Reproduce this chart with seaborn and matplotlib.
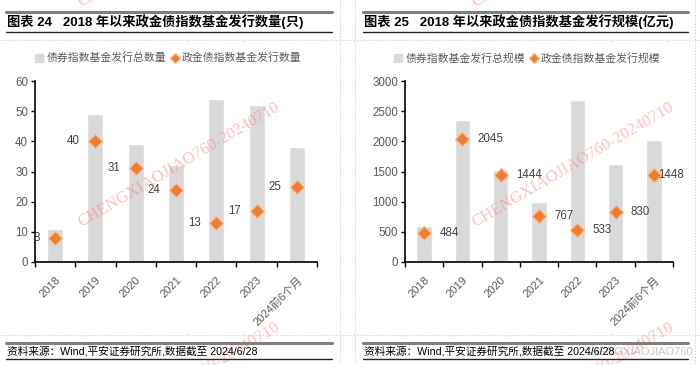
import matplotlib
matplotlib.use("Agg")
import matplotlib.pyplot as plt
import seaborn as sns
import numpy as np
from matplotlib.lines import Line2D

# 数据
years = ["2018", "2019", "2020", "2021", "2022", "2023", "2024前6个月"]
total_count = [11, 49, 39, 32, 54, 52, 38]
pfb_count = [8, 40, 31, 24, 13, 17, 25]
total_scale = [600, 2355, 1528, 993, 2686, 1622, 2024]
pfb_scale = [484, 2045, 1444, 767, 533, 830, 1448]

titles = ["图表 24   2018 年以来政金债指数基金发行数量(只)",
          "图表 25   2018 年以来政金债指数基金发行规模(亿元)"]
legend_labels = [["债券指数基金发行总数量", "政金债指数基金发行数量"],
                 ["债券指数基金发行总规模", "政金债指数基金发行规模"]]
source_text = "资料来源：Wind,平安证券研究所,数据截至 2024/6/28"
watermark = "CHENGXIAOJIAO760-20240710"

sns.set_theme(style="white")
plt.rcParams['font.family'] = ['Liberation Sans', 'Noto Sans CJK SC', 'DejaVu Sans']
plt.rcParams['axes.unicode_minus'] = False

BAR = "#D9D9D9"
ORANGE = "#ED7D31"
GREY_TXT = "#595959"

W, H = 700, 365
fig = plt.figure(figsize=(7, 3.65), dpi=100)


def fx(px):
    return px / W


def fy(py):
    return 1 - py / H


def hline(x0, x1, y, color, lw, ls="-"):
    fig.add_artist(Line2D([fx(x0), fx(x1)], [fy(y), fy(y)], color=color, lw=lw, ls=ls))


def vline(x, y0, y1, color, lw, ls="-"):
    fig.add_artist(Line2D([fx(x), fx(x)], [fy(y0), fy(y1)], color=color, lw=lw, ls=ls))


def draw_panel(ax, totals, subset, ymax, ystep, dx_list, ha):
    pos = np.arange(len(years))
    sns.barplot(x=pos, y=totals, color=BAR, width=0.4, saturation=1, ax=ax, zorder=1)
    sns.scatterplot(x=pos, y=subset, marker="D", s=50, color=ORANGE,
                    edgecolor="#F8B98A", linewidth=0.9, ax=ax, zorder=3)
    for x, v, dx in zip(pos, subset, dx_list):
        t = ax.annotate(str(v), (x, v), xytext=(dx, 0), textcoords="offset points",
                        ha=ha, va="center", fontsize=8.3, color="#404040")
        t.set_clip_on(True)
    ax.set_xlim(-0.5, len(years) - 0.5)
    ax.set_ylim(0, ymax)
    ax.set_yticks(np.arange(0, ymax + 1, ystep))
    ax.set_xticks(pos)
    ax.set_xticklabels(years, rotation=45, ha="right", rotation_mode="anchor")
    ax.set_xticks(np.arange(-0.5, len(years), 1), minor=True)
    ax.tick_params(axis="x", which="major", length=0, pad=9, labelsize=8, labelcolor=GREY_TXT)
    ax.tick_params(axis="x", which="minor", length=3.5, width=1, color="black", direction="out", bottom=True)
    ax.tick_params(axis="y", length=3, width=1, color="black", direction="out", left=True,
                   labelsize=8.3, labelcolor=GREY_TXT, pad=2)
    for side in ["top", "right"]:
        ax.spines[side].set_visible(False)
    for side in ["left", "bottom"]:
        ax.spines[side].set_color("black")
        ax.spines[side].set_linewidth(1.2)
    ax.set_xlabel("")
    ax.set_ylabel("")
    ax.grid(False)


ax1 = fig.add_axes([fx(35), fy(262), fx(317 - 35), (262 - 81) / H])
ax2 = fig.add_axes([fx(405), fy(262), fx(673 - 405), (262 - 81) / H])

draw_panel(ax1, total_count, pfb_count, 60, 10, [-11] * 7, "right")
draw_panel(ax2, total_scale, pfb_scale, 3000, 500, [11] * 6 + [3], "left")

# 水印（平铺）
fig.text(fx(693), fy(352), "CHENGXIAOJIAO760", fontsize=8, color="#C8C8C8",
         ha="right", va="center", zorder=0)
for cx in [179, 573]:
    for cy in [-55, 165, 385]:
        fig.text(fx(cx), fy(cy), watermark, fontsize=12, color="#FF7F7F", alpha=0.5,
                 rotation=30.5, ha="center", va="center", family="Liberation Serif",
                 zorder=0)

# 标题、来源
for x0, x1, title in [(6, 332, titles[0]), (363, 688, titles[1])]:
    hline(x0, x1, 12, "#7F7F7F", 2.2)
    fig.text(fx(x0 + 1), fy(22), title, fontsize=9.5, fontweight="bold",
             color="black", va="center", ha="left")
    hline(x0, x1, 31.5, "#262626", 1.0)
    hline(x0, x1, 343, "#7F7F7F", 2.2)
    fig.text(fx(x0 + 1), fy(351.5), source_text, fontsize=7.7, color="black",
             va="center", ha="left")
    hline(x0, x1, 359, "#262626", 1.0)

# 虚线分隔
hline(0, 700, 40, "#C8C8C8", 0.8, ":")
hline(0, 700, 335, "#C8C8C8", 0.8, ":")
for x in [340, 355, 695]:
    vline(x, 0, 365, "#C8C8C8", 0.8, ":")

# 图例
for cx, labs in [(168, legend_labels[0]), (527, legend_labels[1])]:
    handles = [Line2D([], [], marker="s", ls="", color=BAR, markersize=6),
               Line2D([], [], marker="D", ls="", color=ORANGE, markeredgecolor="#F8B98A",
                      markersize=5)]
    fig.legend(handles, labs, loc="center", bbox_to_anchor=(fx(cx), fy(58)), ncol=2,
               frameon=False, fontsize=7.8, labelcolor=GREY_TXT, handlelength=0.8,
               handletextpad=0.3, columnspacing=0.4, borderpad=0)

fig.savefig("out.png", dpi=100)
